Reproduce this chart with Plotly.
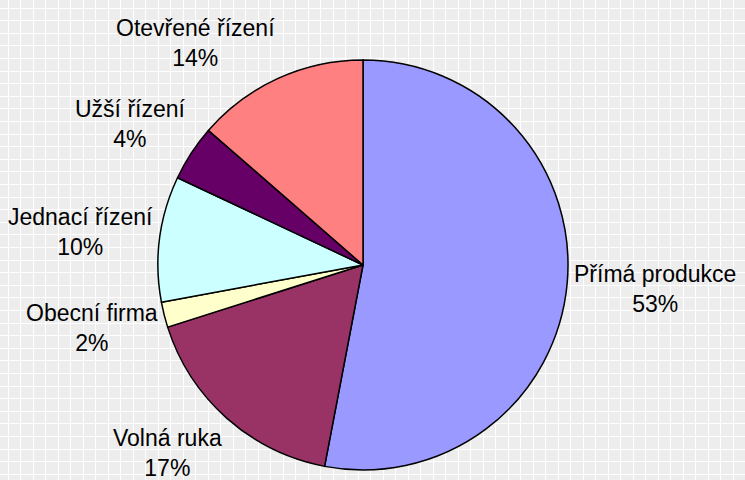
import math
import plotly.graph_objects as go

labels = ["Přímá produkce", "Volná ruka", "Obecní firma", "Jednací řízení", "Užší řízení", "Otevřené řízení"]
values = [53.0, 17.1, 2.0, 9.9, 4.4, 13.6]
pct_labels = ["53%", "17%", "2%", "10%", "4%", "14%"]
colors = ["#9999FF", "#993366", "#FFFFCC", "#CCFFFF", "#660066", "#FF8080"]

W, H = 745, 480
cx, cy, r = 363, 265, 205
FS = 23
FONT = "Liberation Sans, Arial, sans-serif"

# Arial advance widths (per 1000 em) for label width estimation
AW = {" ": 278, "P": 667, "V": 667, "O": 778, "J": 500, "U": 722, "%": 889,
      "a": 556, "á": 556, "b": 556, "c": 500, "d": 556, "e": 556, "é": 556, "ě": 556,
      "f": 278, "i": 222, "í": 278, "j": 222, "k": 500, "l": 222, "m": 833, "n": 556,
      "o": 556, "p": 556, "r": 333, "ř": 333, "s": 500, "š": 500, "t": 278, "u": 556,
      "v": 500, "z": 500, "ž": 500}


def text_w(s):
    return sum(AW.get(ch, 556) for ch in s) / 1000 * FS


fig = go.Figure()
# background grid carrier (pixel coordinate system)
fig.add_trace(go.Scatter(x=[None], y=[None], mode="markers", showlegend=False, hoverinfo="skip"))
fig.add_trace(go.Pie(
    labels=labels, values=values, sort=False, direction="clockwise", rotation=0,
    marker=dict(colors=colors, line=dict(color="black", width=1.5)),
    textinfo="none", showlegend=False, hoverinfo="skip",
    domain=dict(x=[(cx - r) / W, (cx + r) / W], y=[(H - cy - r) / H, (H - cy + r) / H]),
))

# Outside-end labels, Excel style
total = sum(values)
cum = 0.0
gap = 7
for lab, pct, v in zip(labels, pct_labels, values):
    mid = (cum + v / 2) / total * 2 * math.pi
    cum += v
    dx, dy = math.sin(mid), -math.cos(mid)
    px, py = cx + (r + gap) * dx, cy + (r + gap) * dy
    w = max(text_w(lab), text_w(pct))
    h = 2 * 1.27 * FS
    fx = max(-1, min(1, 2.5 * dx))
    fy = max(-1, min(1, 1.6 * dy))
    fig.add_annotation(x=px + fx * w / 2, y=py + fy * h / 2, xref="x", yref="y",
                       text=f"{lab}<br>{pct}", showarrow=False, align="center",
                       xanchor="center", yanchor="middle",
                       font=dict(family=FONT, size=FS, color="black"))

fig.update_layout(
    width=W, height=H, margin=dict(l=0, r=0, t=0, b=0),
    paper_bgcolor="#EDEDED", plot_bgcolor="#EDEDED",
    xaxis=dict(range=[0, W], domain=[0, 1], tick0=8, dtick=12.5, showgrid=True, gridcolor="white",
               gridwidth=1.3, showticklabels=False, zeroline=False, showline=False, ticks=""),
    yaxis=dict(range=[H, 0], domain=[0, 1], tick0=8, dtick=12.6, showgrid=True, gridcolor="white",
               gridwidth=1.3, showticklabels=False, zeroline=False, showline=False, ticks=""),
)
fig.write_html("out.html", config={"displayModeBar": False},
               post_script="document.body.style.margin='0';document.body.style.overflow='hidden';")
